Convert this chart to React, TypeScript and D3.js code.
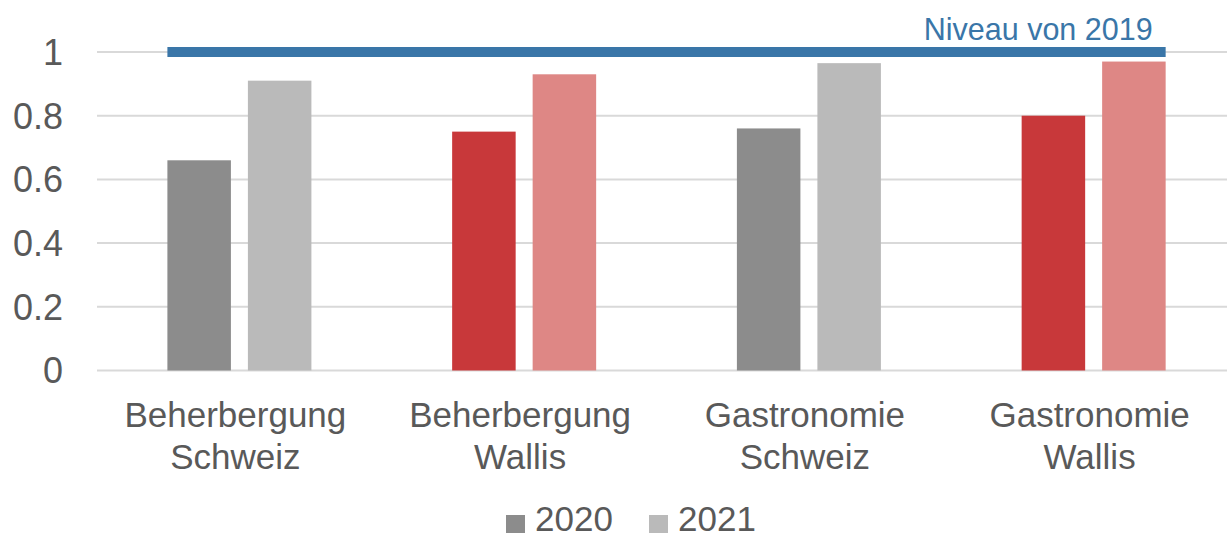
import React from "react";
import * as d3 from "d3";

const categories = ["Beherbergung|Schweiz", "Beherbergung|Wallis", "Gastronomie|Schweiz", "Gastronomie|Wallis"];
const series = ["2020", "2021"];
const values2020 = [0.66, 0.75, 0.76, 0.80];
const values2021 = [0.91, 0.93, 0.965, 0.97];
const isWallis = [false, true, false, true];
const yTicks = [0, 0.2, 0.4, 0.6, 0.8, 1];
const referenceLevel = 1;
const referenceLabel = "Niveau von 2019";

const W = 1227;
const H = 538;
const FONT = "'Liberation Sans', Arial, sans-serif";
const TEXT = "#595959";

export default function App() {
  const x = d3.scaleBand<string>().domain(categories).range([97, 1236]).paddingInner(0).paddingOuter(0);
  const inner = d3.scaleBand<string>().domain(series).range([70.4, 214.4]).paddingInner(0.211);
  const y = d3.scaleLinear().domain([0, 1]).range([370.5, 52]);
  const colors = (i: number, s: number) =>
    isWallis[i] ? (s === 0 ? "#c8383a" : "#de8785") : s === 0 ? "#8c8c8c" : "#bababa";
  const data = [values2020, values2021];
  const refX0 = (x(categories[0]) ?? 0) + (inner("2020") ?? 0);
  const refX1 = (x(categories[3]) ?? 0) + (inner("2021") ?? 0) + inner.bandwidth();

  return (
    <div style={{ position: "fixed", left: 0, top: 0 }}>
      <svg width={W} height={H} style={{ display: "block", background: "#fff" }} fontFamily={FONT}>
        {yTicks.map((t) => (
          <g key={t}>
            <line x1={97} x2={W} y1={y(t)} y2={y(t)} stroke="#d9d9d9" strokeWidth={2} />
            <text x={63} y={y(t)} dy="0.36em" textAnchor="end" fontSize={36} fill={TEXT}>
              {d3.format("~g")(t)}
            </text>
          </g>
        ))}
        {categories.map((c, i) => (
          <g key={c} transform={`translate(${x(c)},0)`}>
            {series.map((s, si) => (
              <rect
                key={s}
                x={inner(s)}
                y={y(data[si][i])}
                width={inner.bandwidth()}
                height={y(0) - y(data[si][i])}
                fill={colors(i, si)}
              />
            ))}
            {c.split("|").map((line, li) => (
              <text
                key={li}
                x={x.bandwidth() / 2 - 4}
                y={427 + li * 42}
                textAnchor="middle"
                fontSize={35}
                fill={TEXT}
              >
                {line}
              </text>
            ))}
          </g>
        ))}
        <line x1={refX0} x2={refX1} y1={y(referenceLevel)} y2={y(referenceLevel)} stroke="#3a76a8" strokeWidth={10} />
        <text x={refX1 - 13} y={40} textAnchor="end" fontSize={30.5} fill="#3a76a8">
          {referenceLabel}
        </text>
        {series.map((s, si) => {
          const lx = 506 + si * 143;
          return (
            <g key={s}>
              <rect x={lx} y={515} width={19} height={18} fill={si === 0 ? "#8c8c8c" : "#bababa"} />
              <text x={lx + 29} y={531} fontSize={35} fill={TEXT}>
                {s}
              </text>
            </g>
          );
        })}
      </svg>
    </div>
  );
}
